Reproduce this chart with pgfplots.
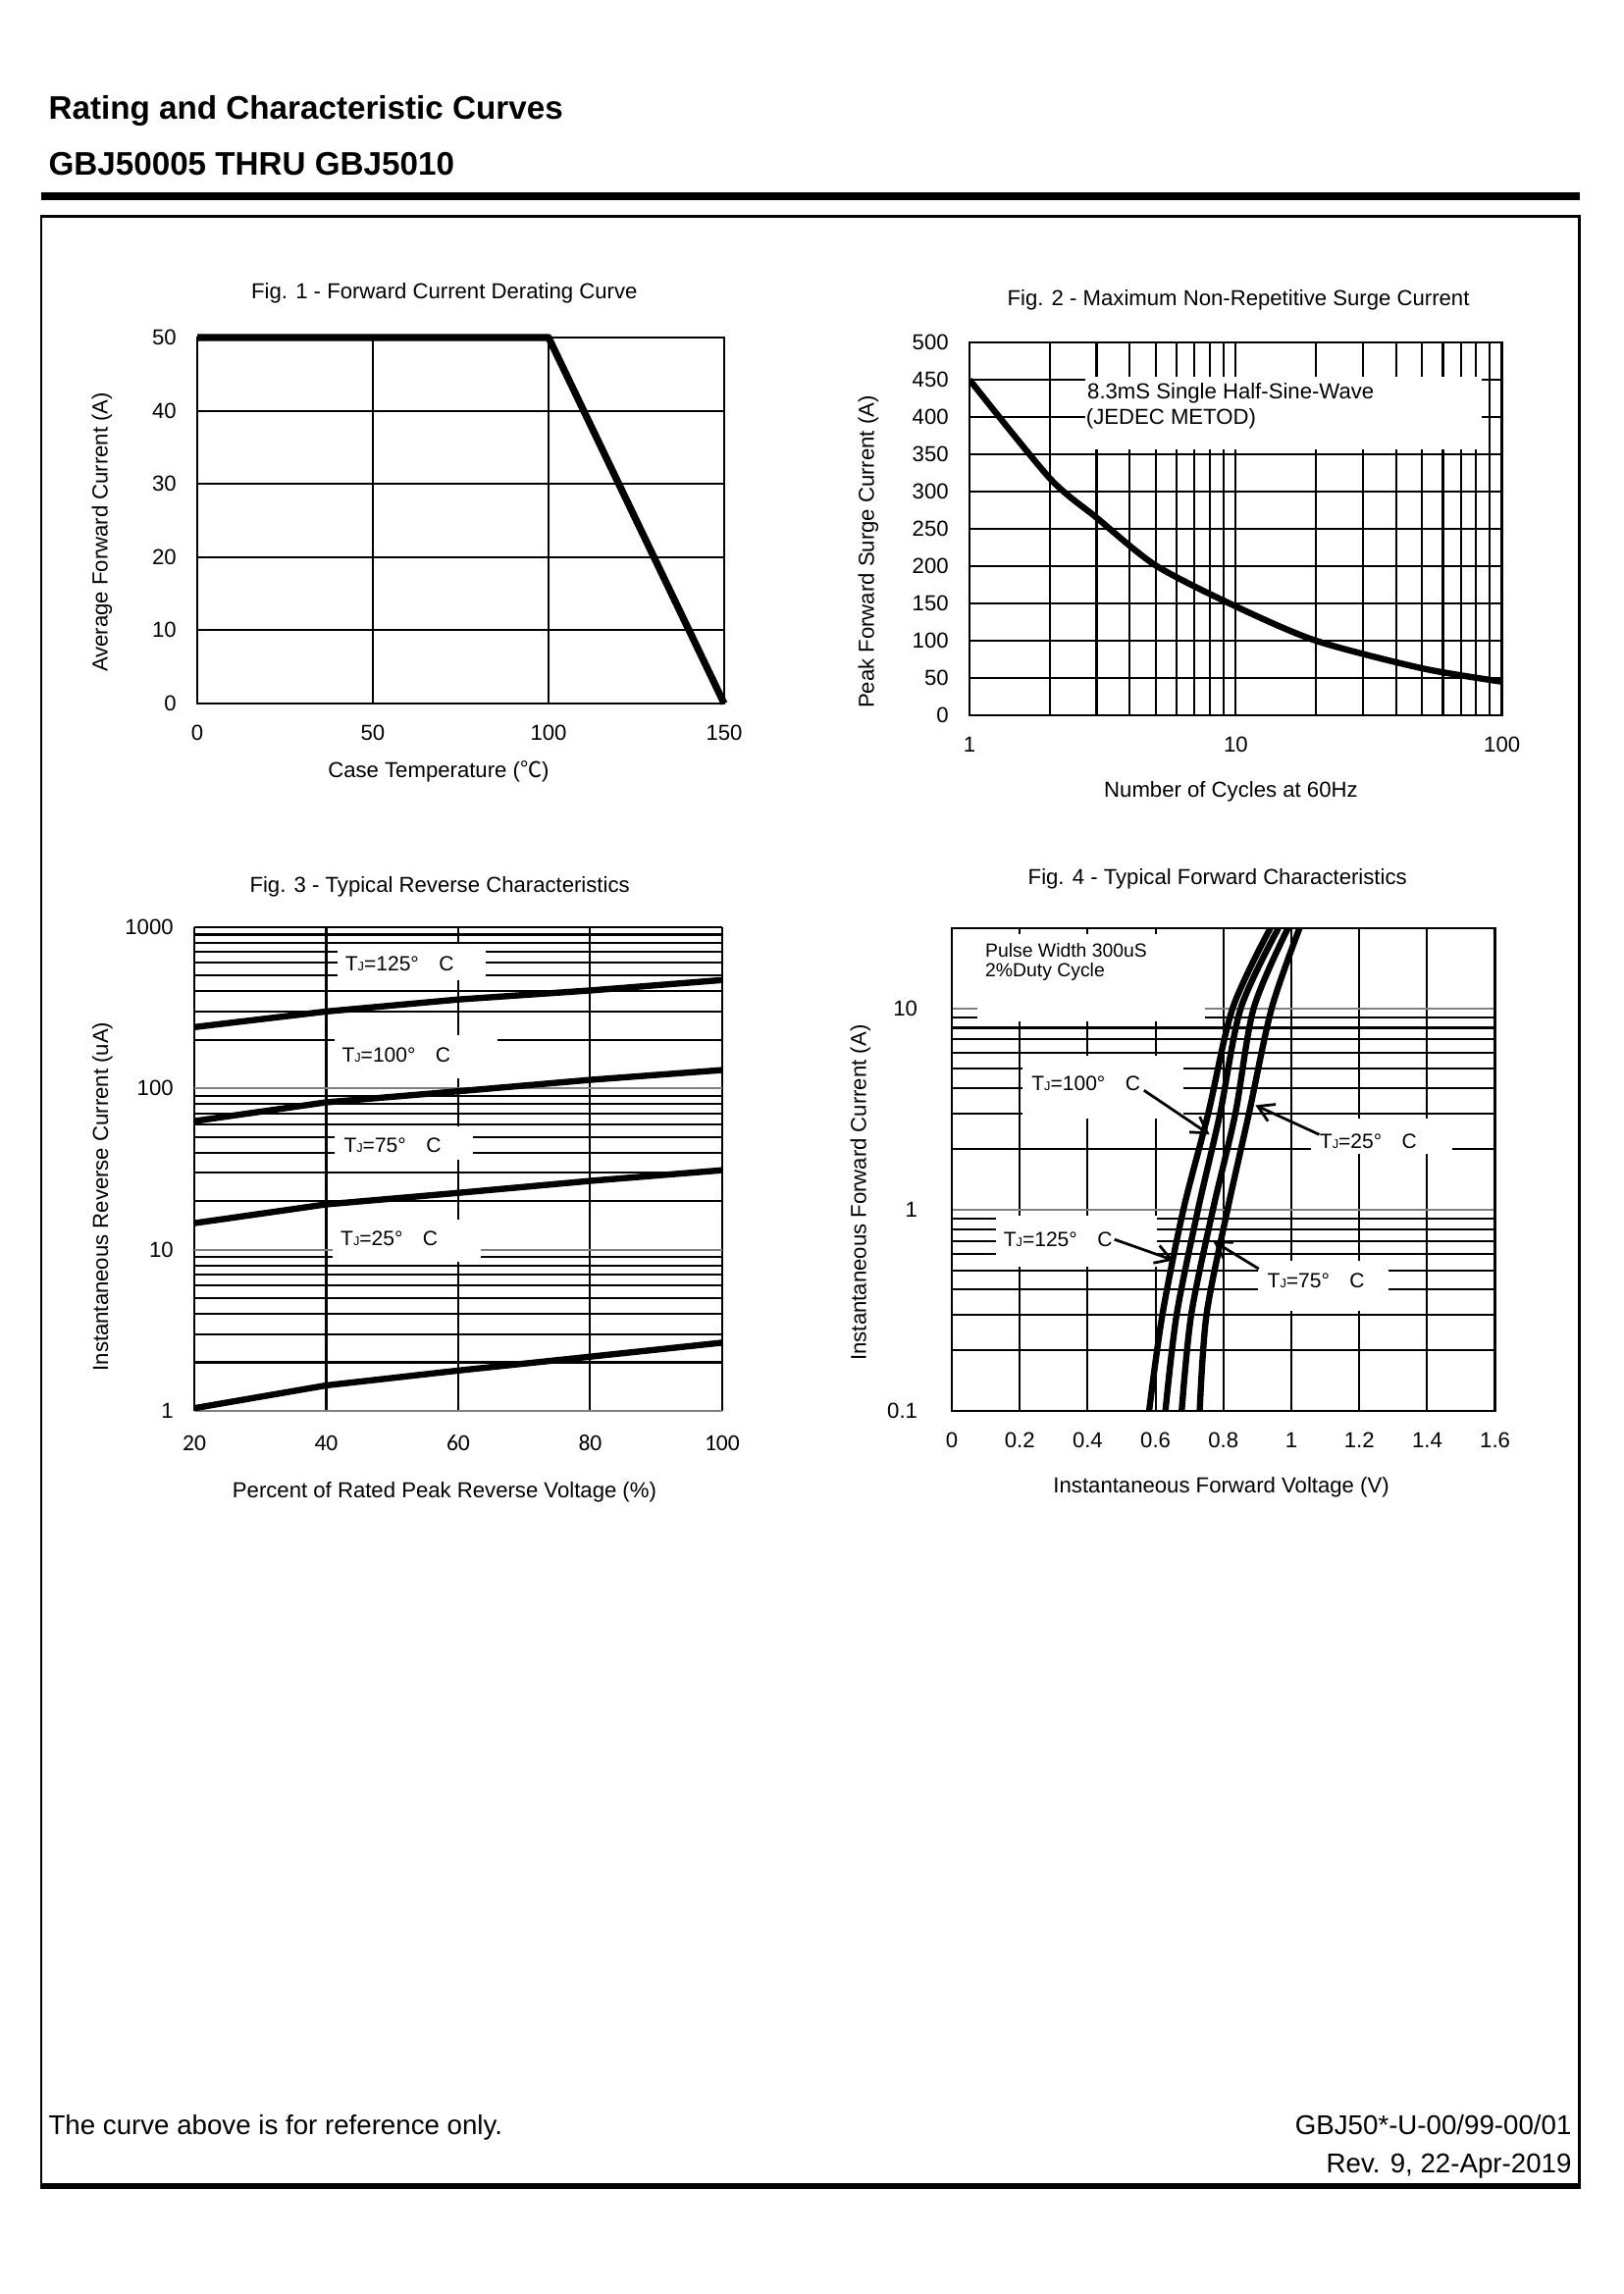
\documentclass[border=0pt]{standalone}
\usepackage{pgfplots}
\pgfplotsset{compat=1.18}
\usepackage{fontspec}
\setmainfont{Liberation Sans}
\newfontfamily\cjk{Noto Sans CJK SC}
\newfontfamily\calibri{Carlito}
\usetikzlibrary{arrows.meta}

\newcommand{\TJ}{T{\fontsize{4.6}{5}\selectfont J}}
\newcommand{\dgC}{°\hspace{2.6mm}C}
\newcommand{\ef}{\fontsize{8}{9.6}\selectfont}

\tikzset{
  curve/.style={black, line width=2.3pt, line join=round},
  lab/.style={anchor=west, inner sep=0pt, font=\fontsize{7.6}{9}\selectfont},
  arr/.style={-{Straight Barb[length=2mm,width=2.4mm]}, line width=1pt},
}
\pgfplotsset{
  every axis title shift=0pt,
  dsbase/.style={
    scale only axis,
    anchor=south west,
    font=\ef,
    /pgf/number format/assume math mode=true,
    major tick length=0pt, minor tick length=0pt,
    tick style={draw=none},
    axis line style={line width=1pt},
    grid=both,
    major grid style={black, line width=0.75pt},
    minor grid style={black, line width=0.75pt},
    xticklabel style={font=\ef, yshift=-1.55mm},
    yticklabel style={font=\ef, xshift=-1.47mm},
    title style={font=\ef, anchor=center, yshift=0pt},
    xlabel style={font=\ef, anchor=center},
    ylabel style={font=\ef, anchor=center},
  },
}

\begin{document}
\begin{tikzpicture}
\begin{scope}[x=0.126965mm, y=0.126965mm]
  \path[use as bounding box] (0,0) rectangle (1654,2338);
  \coordinate (f1) at (201,1621);
  \coordinate (f2) at (988,1609);
  \coordinate (f3) at (198,900);
  \coordinate (f4) at (970,900);
  \node[anchor=base west, inner sep=0pt, font=\bfseries\fontsize{12}{14.4}\selectfont] at (49,2338-122) {Rating and Characteristic Curves};
  \node[anchor=base west, inner sep=0pt, font=\bfseries\fontsize{12}{14.4}\selectfont] at (49,2338-179) {GBJ50005 THRU GBJ5010};
  \fill (42,2338-196) rectangle (1610,2338-204);
  \draw[line width=1.08pt] (42,2338-221) rectangle (1609,2338-2227);
  \fill (40.5,2338-2225) rectangle (1610.5,2338-2231);
  \node[anchor=base west, inner sep=0pt, font=\fontsize{10}{12}\selectfont] at (49,2338-2176) {The curve above is for reference only.};
  \node[anchor=base east, inner sep=0pt, font=\fontsize{10}{12}\selectfont] at (1602,2338-2176) {GBJ50*-U-00/99-00/01};
  \node[anchor=base east, inner sep=0pt, font=\fontsize{10}{12}\selectfont] at (1602,2338-2215) {Rev. 9, 22-Apr-2019};
\end{scope}

% ---------------- Fig. 1
\begin{axis}[dsbase, at={(f1)}, width=68.18mm, height=47.36mm,
  xmin=0, xmax=150, ymin=0, ymax=50,
  xtick={0,50,100,150}, ytick={0,10,20,30,40,50},
  clip=false,
  title={Fig. 1 - Forward Current Derating Curve},
  title style={at={(axis description cs:0.469,1.122)}},
  xlabel={Case Temperature ({\cjk ℃})},
  xlabel style={at={(axis description cs:0.458,-0.185)}},
  ylabel={Average Forward Current (A)},
  ylabel style={at={(axis description cs:-0.181,0.468)}},
]
\addplot[curve, line width=2.6pt] coordinates {(0,50) (100,50) (150,0)};
\end{axis}

% ---------------- Fig. 2
\begin{axis}[dsbase, at={(f2)}, width=68.9mm, height=48.25mm,
  xmode=log, xmin=1, xmax=100, ymin=0, ymax=500,
  xtick={1,10,100}, xticklabels={1,10,100},
  ytick={0,50,100,150,200,250,300,350,400,450,500},
  title={Fig. 2 - Maximum Non-Repetitive Surge Current},
  title style={at={(axis description cs:0.505,1.113)}},
  xlabel={Number of Cycles at 60Hz},
  xlabel style={at={(axis description cs:0.491,-0.205)}},
  ylabel={Peak Forward Surge Current (A)},
  ylabel style={at={(axis description cs:-0.190,0.438)}},
]
\fill[white] (axis cs:2.73,357) rectangle (axis cs:84,454);
\node[lab, font=\ef] at (axis cs:2.76,432) {8.3mS Single Half-Sine-Wave};
\node[lab, font=\ef] at (axis cs:2.73,397) {(JEDEC METOD)};
\addplot[curve, smooth, tension=0.45] coordinates {(1,450) (2,318) (3,265) (5,201) (10,146) (20,100) (50,63) (100,45)};
\end{axis}

% ---------------- Fig. 3
\begin{axis}[dsbase, at={(f3)}, width=68.3mm, height=62.6mm,
  ymode=log, xmin=20, xmax=100, ymin=1, ymax=1000,
  xtick={20,40,60,80,100},
  ytick={1,10,100,1000}, yticklabels={1,10,100,1000},
  axis line style={draw=none},
  major y grid style={black!50, line width=0.75pt},
  xticklabel style={font=\calibri\fontsize{8.5}{10}\selectfont, yshift=-0.35mm},
  title={Fig. 3 - Typical Reverse Characteristics},
  title style={at={(axis description cs:0.465,1.083)}},
  xlabel={Percent of Rated Peak Reverse Voltage (\%)},
  xlabel style={at={(axis description cs:0.474,-0.167)}},
  ylabel={Instantaneous Reverse Current (uA)},
  ylabel style={at={(axis description cs:-0.174,0.443)}},
]
\fill[white] (axis cs:41.7,468) rectangle (axis cs:64.2,783);
\fill[white] (axis cs:41.3,115) rectangle (axis cs:65.9,215);
\fill[white] (axis cs:41.3,36) rectangle (axis cs:62.2,58);
\fill[white] (axis cs:40.9,8.4) rectangle (axis cs:63.5,15.4);
\node[lab] at (axis cs:42.8,590) {\TJ=125\dgC};
\node[lab] at (axis cs:42.3,161) {\TJ=100\dgC};
\node[lab] at (axis cs:42.6,44.4) {\TJ=75\dgC};
\node[lab] at (axis cs:42.1,11.7) {\TJ=25\dgC};
\draw[black, line width=0.75pt] (rel axis cs:0,1) -- (rel axis cs:1,1);
\addplot[curve] coordinates {(20,240) (40,300) (60,356) (80,405) (100,470)};
\addplot[curve] coordinates {(20,62.7) (40,82) (60,96) (80,113) (100,130)};
\addplot[curve] coordinates {(20,14.6) (40,19.1) (60,22.5) (80,26.7) (100,31.1)};
\addplot[curve] coordinates {(20,1.04) (40,1.44) (60,1.78) (80,2.17) (100,2.65)};
\end{axis}

% ---------------- Fig. 4
\begin{axis}[dsbase, at={(f4)}, width=70.29mm, height=62.47mm,
  ymode=log, xmin=0, xmax=1.6, ymin=0.1, ymax=25,
  xtick={0,0.2,0.4,0.6,0.8,1,1.2,1.4,1.6},
  xticklabels={0,0.2,0.4,0.6,0.8,1,1.2,1.4,1.6},
  ytick={0.1,1,10}, yticklabels={0.1,1,10},
  yticklabel style={font=\ef, xshift=-1.73mm},
  major y grid style={black!50, line width=0.75pt},
  title={Fig. 4 - Typical Forward Characteristics},
  title style={at={(axis description cs:0.489,1.102)}},
  xlabel={Instantaneous Forward Voltage (V)},
  xlabel style={at={(axis description cs:0.496,-0.158)}},
  ylabel={Instantaneous Forward Current (A)},
  ylabel style={at={(axis description cs:-0.168,0.452)}},
]
\fill[white] (axis cs:0.075,8.6) rectangle (axis cs:0.746,23.4);
\fill[white] (axis cs:0.208,2.84) rectangle (axis cs:0.683,5.8);
\fill[white] (axis cs:1.059,1.90) rectangle (axis cs:1.473,2.84);
\fill[white] (axis cs:0.130,0.52) rectangle (axis cs:0.605,0.93);
\fill[white] (axis cs:0.903,0.315) rectangle (axis cs:1.285,0.557);
\node[lab, font=\fontsize{7}{8.4}\selectfont] at (axis cs:0.097,19.5) {Pulse Width 300uS};
\node[lab, font=\fontsize{7}{8.4}\selectfont] at (axis cs:0.097,15.1) {2\%Duty Cycle};
\node[lab] at (axis cs:0.2335,4.21) {\TJ=100\dgC};
\node[lab] at (axis cs:1.082,2.19) {\TJ=25\dgC};
\node[lab] at (axis cs:0.151,0.711) {\TJ=125\dgC};
\node[lab] at (axis cs:0.928,0.446) {\TJ=75\dgC};
\addplot[curve, smooth] coordinates {(0.581,0.1) (0.620,0.3) (0.682,1) (0.755,3) (0.827,10) (0.938,25)};
\addplot[curve, smooth] coordinates {(0.629,0.1) (0.662,0.3) (0.725,1) (0.790,3) (0.851,10) (0.962,25)};
\addplot[curve, smooth] coordinates {(0.677,0.1) (0.705,0.3) (0.769,1) (0.835,3) (0.889,10) (0.990,25)};
\addplot[curve, smooth] coordinates {(0.730,0.1) (0.750,0.3) (0.812,1) (0.875,3) (0.942,10) (1.024,25)};
\draw[arr] (axis cs:0.566,3.91) -- (axis cs:0.759,2.36);
\draw[arr] (axis cs:1.082,2.36) -- (axis cs:0.894,3.30);
\draw[arr] (axis cs:0.479,0.711) -- (axis cs:0.653,0.56);
\draw[arr] (axis cs:0.904,0.508) -- (axis cs:0.769,0.70);
\end{axis}
\end{tikzpicture}
\end{document}
